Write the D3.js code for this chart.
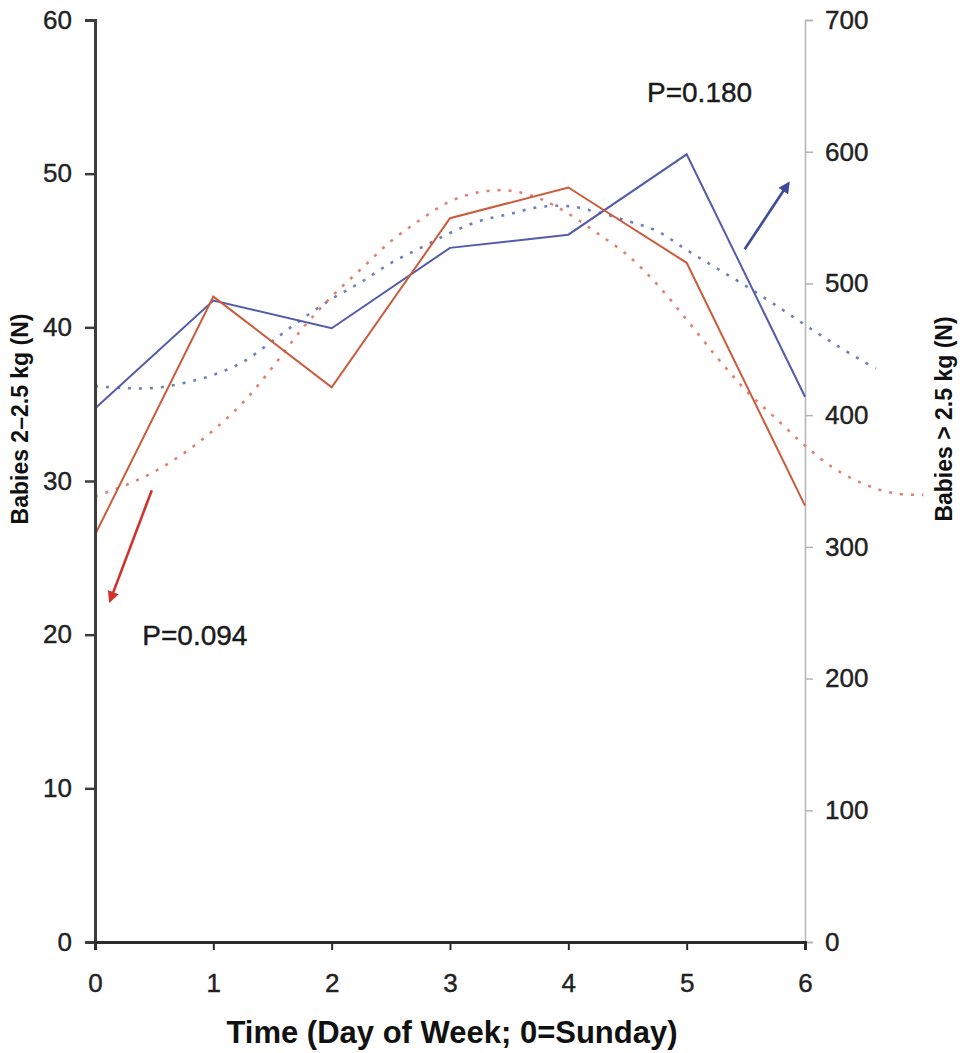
<!DOCTYPE html>
<html>
<head>
<meta charset="utf-8">
<script src="https://cdn.jsdelivr.net/npm/d3@7"></script>
<style>
  body { margin: 0; background: #fff; }
  svg { display: block; font-family: Arial, "Liberation Sans", sans-serif; }
</style>
</head>
<body>
<svg></svg>
<script>
// observed counts, day 0 = Sunday
const days = [0, 1, 2, 3, 4, 5, 6];
const lowWeight = [26.5, 42.0, 36.1, 47.1, 49.1, 44.2, 28.4];      // babies 2-2.5 kg, left axis
const normalWeight = [405, 487, 466, 527, 537, 598, 414];         // babies > 2.5 kg, right axis

// fitted curves (dotted)
const lowFitDays = [0, 0.25, 0.5, 0.75, 1, 1.25, 1.5, 1.75, 2, 2.25, 2.5, 2.75, 3, 3.25, 3.5,
  3.75, 4, 4.25, 4.5, 4.75, 5, 5.25, 5.5, 5.75, 6, 6.25, 6.5, 6.75, 7];
const lowFit = [29.0, 29.7, 30.6, 31.8, 33.3, 35.1, 37.4, 39.9, 42.0, 43.8, 45.6, 47.0, 48.2, 48.8, 48.9,
  48.4, 47.4, 46.1, 44.7, 42.8, 40.5, 38.1, 35.9, 34.1, 32.3, 30.8, 29.8, 29.2, 29.1];
const normalFitDays = [0, 0.25, 0.5, 0.75, 1, 1.25, 1.5, 1.75, 2, 2.25, 2.5, 2.75, 3, 3.25, 3.5,
  3.75, 4, 4.25, 4.5, 4.75, 5, 5.25, 5.5, 5.75, 6, 6.25, 6.5, 6.6];
const normalFit = [422, 420.6, 420.6, 424.4, 430.5, 440.4, 456.3, 473.0, 488.2, 501.1, 515.5, 526.9, 538.3, 547.4, 552.6,
  557.9, 558.7, 554.0, 547.4, 539.8, 525.4, 511.7, 498.1, 483.6, 468.5, 454.0, 440.4, 435.8];

const leftTicks = [0, 10, 20, 30, 40, 50, 60];
const rightTicks = [0, 100, 200, 300, 400, 500, 600, 700];

const width = 963;
const height = 1053;
const margin = { top: 20, right: 158, bottom: 111, left: 95 };

const svg = d3.select("svg").attr("width", width).attr("height", height);

const x = d3.scaleLinear().domain([0, 6]).range([margin.left, width - margin.right]);
const yLeft = d3.scaleLinear().domain([0, 60]).range([height - margin.bottom, margin.top]);
const yRight = d3.scaleLinear().domain([0, 700]).range([height - margin.bottom, margin.top]);

const redSolid = "#cd5a3c";
const blueSolid = "#525cab";
const redDot = "#e08273";
const blueDot = "#7080bb";

function styleLabels(g) {
  g.selectAll(".tick text")
    .attr("font-size", 26)
    .attr("fill", "#222")
    .attr("stroke", "#222")
    .attr("stroke-width", 0.4)
    .attr("font-family", "Arial, 'Liberation Sans', sans-serif");
}

// right axis (light grey)
const rightAxis = svg.append("g")
  .attr("transform", `translate(${x(6)},0)`)
  .call(d3.axisRight(yRight).tickValues(rightTicks).tickSize(8).tickPadding(12));
rightAxis.select(".domain").attr("stroke", "#b4b4b4").attr("stroke-width", 1.5);
rightAxis.selectAll(".tick line").attr("stroke", "#b4b4b4").attr("stroke-width", 1.5);
styleLabels(rightAxis);

// fitted curves
const lowFitLine = d3.line()
  .x((d, i) => x(lowFitDays[i]))
  .y(d => yLeft(d))
  .curve(d3.curveCatmullRom);
const normalFitLine = d3.line()
  .x((d, i) => x(normalFitDays[i]))
  .y(d => yRight(d))
  .curve(d3.curveCatmullRom);

svg.append("path")
  .datum(normalFit)
  .attr("d", normalFitLine)
  .attr("fill", "none")
  .attr("stroke", blueDot)
  .attr("stroke-width", 2.6)
  .attr("stroke-dasharray", "3,8");

svg.append("path")
  .datum(lowFit)
  .attr("d", lowFitLine)
  .attr("fill", "none")
  .attr("stroke", redDot)
  .attr("stroke-width", 2.6)
  .attr("stroke-dasharray", "3,8");

// observed lines
svg.append("path")
  .datum(normalWeight)
  .attr("d", d3.line().x((d, i) => x(days[i])).y(d => yRight(d)))
  .attr("fill", "none")
  .attr("stroke", blueSolid)
  .attr("stroke-width", 2);

svg.append("path")
  .datum(lowWeight)
  .attr("d", d3.line().x((d, i) => x(days[i])).y(d => yLeft(d)))
  .attr("fill", "none")
  .attr("stroke", redSolid)
  .attr("stroke-width", 2);

// left axis
const leftAxis = svg.append("g")
  .attr("transform", `translate(${x(0)},0)`)
  .call(d3.axisLeft(yLeft).tickValues(leftTicks).tickSize(10).tickPadding(13));
leftAxis.select(".domain").attr("stroke", "#3c3c3c").attr("stroke-width", 3);
leftAxis.selectAll(".tick line").attr("stroke", "#3c3c3c").attr("stroke-width", 2.5);
styleLabels(leftAxis);

// bottom axis
const bottomAxis = svg.append("g")
  .attr("transform", `translate(0,${yLeft(0)})`)
  .call(d3.axisBottom(x).tickValues(days).tickFormat(d3.format("d")).tickSize(8).tickPadding(24));
bottomAxis.select(".domain").attr("stroke", "#2c2c2c").attr("stroke-width", 3);
bottomAxis.selectAll(".tick line").attr("stroke", "#2c2c2c").attr("stroke-width", 2);
styleLabels(bottomAxis);

// axis titles
svg.append("text")
  .attr("transform", `translate(28,${(yLeft(0) + yLeft(60)) / 2 - 62}) rotate(-90)`)
  .attr("text-anchor", "middle")
  .attr("font-size", 23)
  .attr("font-weight", "bold")
  .attr("fill", "#111")
  .text("Babies 2–2.5 kg (N)");

svg.append("text")
  .attr("transform", `translate(952,${(yLeft(0) + yLeft(60)) / 2 - 62}) rotate(-90)`)
  .attr("text-anchor", "middle")
  .attr("font-size", 23)
  .attr("font-weight", "bold")
  .attr("fill", "#111")
  .text("Babies > 2.5 kg (N)");

svg.append("text")
  .attr("x", (x(0) + x(6)) / 2 + 2)
  .attr("y", 1043)
  .attr("text-anchor", "middle")
  .attr("font-size", 31)
  .attr("font-weight", "bold")
  .attr("fill", "#111")
  .text("Time (Day of Week; 0=Sunday)");

// arrows and P values
const defs = svg.append("defs");
[["red", "#d3322b"], ["blue", "#3e4a9c"]].forEach(([id, c]) => {
  defs.append("marker")
    .attr("id", "head-" + id)
    .attr("viewBox", "0 0 10 10")
    .attr("refX", 8).attr("refY", 5)
    .attr("markerWidth", 4.5).attr("markerHeight", 4.5)
    .attr("orient", "auto")
    .append("path")
    .attr("d", "M0,0L10,5L0,10Z")
    .attr("fill", c);
});

svg.append("line")
  .attr("x1", x(0.48)).attr("y1", yLeft(29.4))
  .attr("x2", x(0.127)).attr("y2", yLeft(22.2))
  .attr("stroke", "#d3322b").attr("stroke-width", 2.6)
  .attr("marker-end", "url(#head-red)");

svg.append("line")
  .attr("x1", x(5.49)).attr("y1", yRight(526))
  .attr("x2", x(5.86)).attr("y2", yRight(576))
  .attr("stroke", "#3e4a9c").attr("stroke-width", 2.6)
  .attr("marker-end", "url(#head-blue)");

svg.append("text")
  .attr("x", x(0.4)).attr("y", yLeft(19.3))
  .attr("font-size", 28)
  .attr("fill", "#1a1a1a")
  .attr("stroke", "#1a1a1a")
  .attr("stroke-width", 0.4)
  .text("P=0.094");

svg.append("text")
  .attr("x", x(4.665)).attr("y", yRight(638))
  .attr("font-size", 28)
  .attr("fill", "#1a1a1a")
  .attr("stroke", "#1a1a1a")
  .attr("stroke-width", 0.4)
  .text("P=0.180");
</script>
</body>
</html>
